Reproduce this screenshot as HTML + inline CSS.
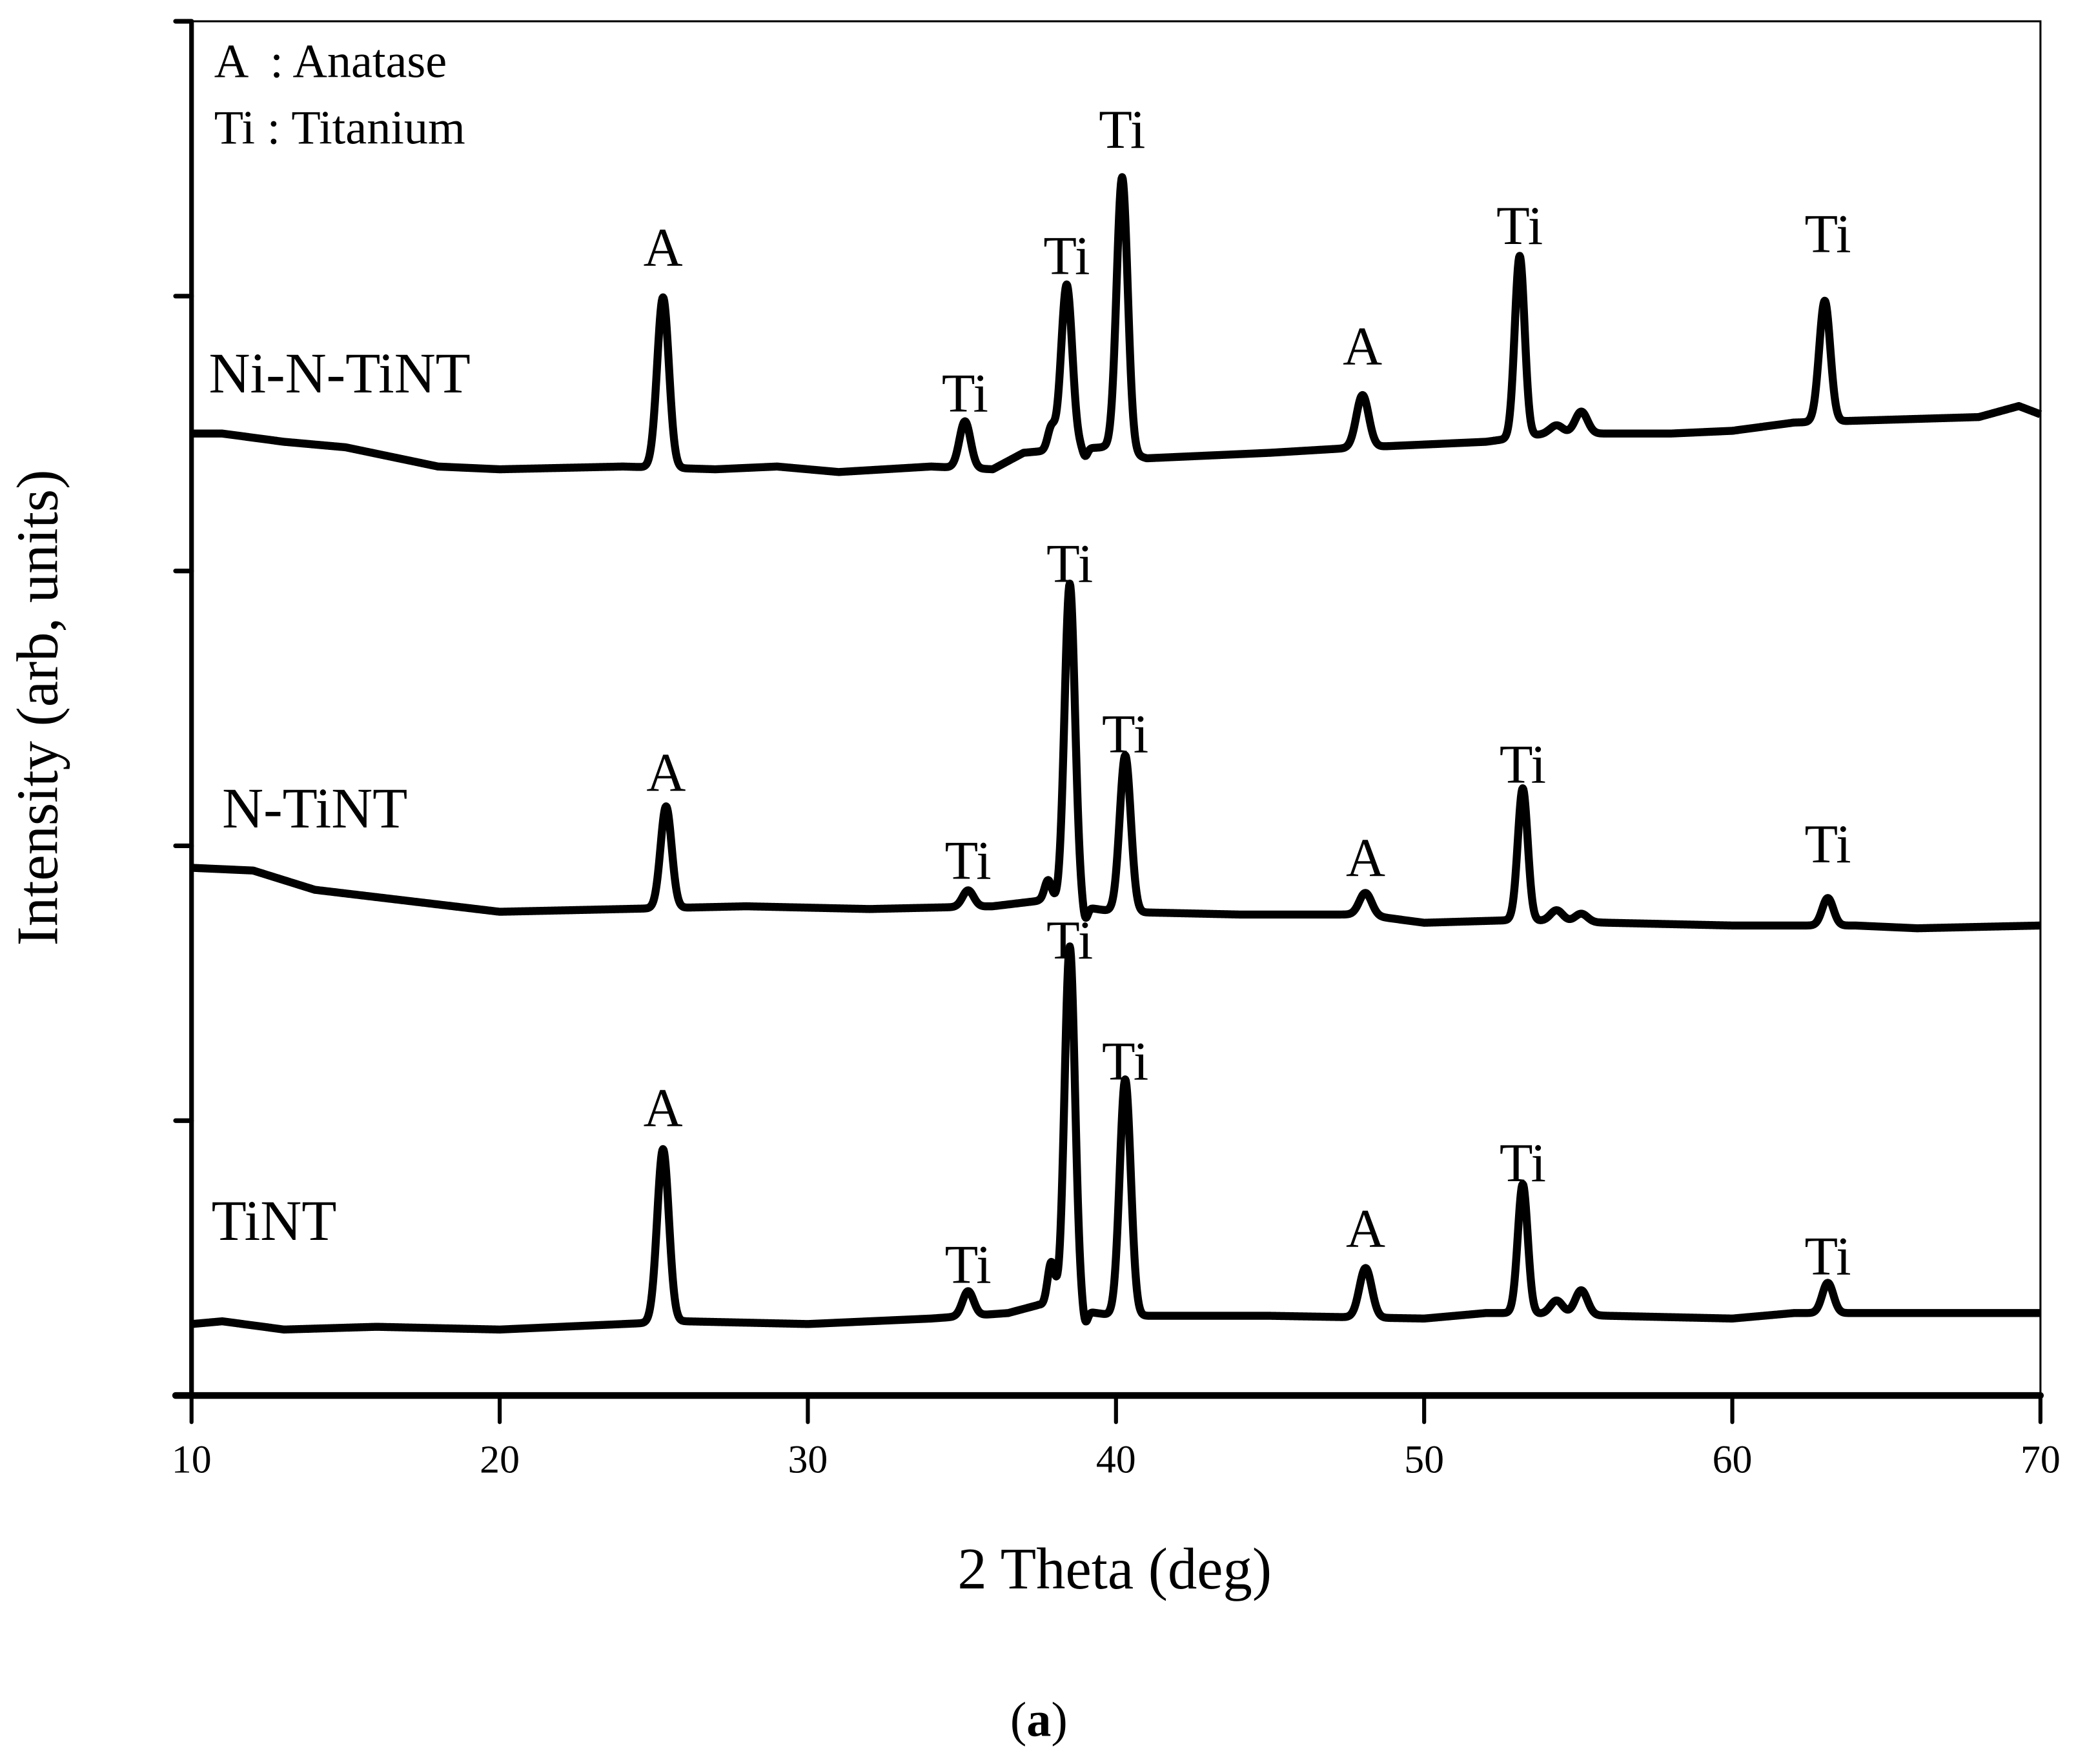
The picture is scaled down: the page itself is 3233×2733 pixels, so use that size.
<!DOCTYPE html>
<html><head><meta charset="utf-8"><style>
html,body{margin:0;padding:0;background:#fff}
svg{display:block}
text{font-family:"Liberation Serif",serif;fill:#000}
</style></head><body>
<svg id="chart" width="3233" height="2733" viewBox="1 -2 1569 1326" preserveAspectRatio="none" xmlns="http://www.w3.org/2000/svg">
<g id="axes"></g>
<g id="series"></g>
<g id="labels"></g>
<text x="162" y="56" font-size="36" xml:space="preserve">A  : Anatase</text>
<text x="162" y="106" font-size="36">Ti : Titanium</text>
<text x="158" y="293" font-size="43">Ni-N-TiNT</text>
<text x="168" y="620" font-size="43">N-TiNT</text>
<text x="160" y="930" font-size="43">TiNT</text>
<text x="839" y="1192" font-size="44" text-anchor="middle">2 Theta (deg)</text>
<text transform="translate(44,530) rotate(-90)" font-size="44" text-anchor="middle">Intensity (arb, units)</text>
<text x="782" y="1303" font-size="37" text-anchor="middle">(<tspan font-weight="bold">a</tspan>)</text>
</svg>
<script>
// x: 2θ (deg), y: intensity (arb units, 0..5)
const xTicks = [10,20,30,40,50,60,70];
const yTicks = [0,1,2,3,4,5];
// baselines: [2θ, intensity]
const baseTiNT = [[10,0.26],[11,0.27],[13,0.24],[16,0.25],[20,0.24],[24,0.26],[26,0.27],[30,0.26],[34,0.28],[36.5,0.3],[37.5,0.33],[40,0.29],[42,0.29],[45,0.29],[50,0.28],[52,0.3],[53,0.3],[56,0.29],[60,0.28],[62,0.3],[65,0.3],[70,0.3]];
const peaksTiNT = [[25.3,0.63,0.19],[35.2,0.09,0.18],[37.9,0.16,0.12],[38.5,1.32,0.17],[39.0,-0.05,0.08],[40.3,0.86,0.18],[48.1,0.18,0.2],[53.2,0.47,0.16],[54.3,0.05,0.2],[55.1,0.09,0.2],[63.1,0.11,0.18]];
const baseNTiNT = [[10,1.92],[12,1.91],[14,1.84],[17,1.8],[20,1.76],[24,1.77],[28,1.78],[32,1.77],[36,1.78],[37.5,1.8],[40,1.76],[44,1.75],[48,1.75],[50,1.72],[53,1.73],[56,1.72],[60,1.71],[64,1.71],[66,1.7],[70,1.71]];
const peaksNTiNT = [[25.4,0.37,0.18],[35.2,0.06,0.18],[37.8,0.08,0.12],[38.5,1.17,0.17],[39.0,-0.05,0.08],[40.3,0.57,0.18],[48.1,0.08,0.2],[53.2,0.48,0.16],[54.3,0.04,0.2],[55.1,0.03,0.2],[63.1,0.1,0.18]];
const baseNiNTiNT = [[10,3.5],[11,3.5],[13,3.47],[15,3.45],[18,3.38],[20,3.37],[24,3.38],[27,3.37],[29,3.38],[31,3.36],[34,3.38],[36,3.37],[37,3.43],[38,3.44],[39.6,3.45],[41,3.41],[45,3.43],[48,3.45],[50,3.46],[52,3.47],[54,3.5],[56,3.5],[58,3.5],[60,3.51],[62,3.54],[65,3.55],[68,3.56],[69.3,3.6],[70,3.57]];
const peaksNiNTiNT = [[25.3,0.62,0.19],[35.1,0.17,0.18],[37.9,0.08,0.12],[38.4,0.6,0.18],[39.0,-0.03,0.08],[40.2,1.0,0.18],[48.0,0.19,0.2],[53.1,0.66,0.16],[54.3,0.03,0.2],[55.1,0.08,0.2],[63.0,0.44,0.18]];
const seriesNames = ['tint','n-tint','ni-n-tint'];
const seriesBase = [baseTiNT, baseNTiNT, baseNiNTiNT];
const seriesPeaks = [peaksTiNT, peaksNTiNT, peaksNiNTiNT];
// label annotations [2θ, intensity at text baseline, text]
const annoTiNT = [[25.3,0.98,'A'],[35.2,0.41,'Ti'],[38.5,1.59,'Ti'],[40.3,1.15,'Ti'],[48.1,0.54,'A'],[53.2,0.78,'Ti'],[63.1,0.44,'Ti']];
const annoNTiNT = [[25.4,2.2,'A'],[35.2,1.88,'Ti'],[38.5,2.96,'Ti'],[40.3,2.34,'Ti'],[48.1,1.89,'A'],[53.2,2.23,'Ti'],[63.1,1.94,'Ti']];
const annoNiNTiNT = [[25.3,4.11,'A'],[35.1,3.58,'Ti'],[38.4,4.08,'Ti'],[40.2,4.54,'Ti'],[48.0,3.75,'A'],[53.1,4.19,'Ti'],[63.1,4.16,'Ti']];
const annos = [annoTiNT, annoNTiNT, annoNiNTiNT];

const X0=145,X1=1535,Y0=1047,Y1=14;
function xs(v){return X0+(v-10)/60*(X1-X0);}
function ys(v){return Y0-v/5*(Y0-Y1);}
const NS='http://www.w3.org/2000/svg';
const axes=document.getElementById('axes');
function mk(tag,attrs,parent){const e=document.createElementNS(NS,tag);for(const k in attrs)e.setAttribute(k,attrs[k]);parent.appendChild(e);return e;}
let e=mk('rect',{x:X0,y:Y1,width:X1-X0,height:Y0-Y1,fill:'none',stroke:'#000','stroke-width':1.5},axes);


e=mk('line',{x1:X0,y1:Y1,x2:X0,y2:Y0+2,stroke:'#000','stroke-width':3.5},axes);


e=mk('line',{x1:X0-12,y1:Y0,x2:X1,y2:Y0,stroke:'#000','stroke-width':5,'stroke-linecap':'round'},axes);


for(const t of xTicks){
  e=mk('line',{x1:xs(t),y1:Y0,x2:xs(t),y2:Y0+20,stroke:'#000','stroke-width':3,'stroke-linecap':'round'},axes);
  
  
  e=mk('text',{x:xs(t),y:Y0+58,'font-size':30,'text-anchor':'middle'},axes);
  e.textContent=t;
  
  
}
for(const t of yTicks){
  e=mk('line',{x1:X0-12,y1:ys(t),x2:X0,y2:ys(t),stroke:'#000','stroke-width':3.5,'stroke-linecap':'round'},axes);
  
  
}
function interp(b,x){for(let i=0;i<b.length-1;i++){if(x>=b[i][0]&&x<=b[i+1][0]){const f=(x-b[i][0])/(b[i+1][0]-b[i][0]);return b[i][1]+f*(b[i+1][1]-b[i][1]);}}return b[b.length-1][1];}
const sg=document.getElementById('series');
for(let s=0;s<3;s++){
  let d='';
  for(let x=10;x<=70.0001;x+=0.02){
    let v=interp(seriesBase[s],x);
    for(const p of seriesPeaks[s]) v+=p[1]*Math.exp(-((x-p[0])**2)/(2*p[2]*p[2]));
    d+=(d?'L':'M')+xs(x).toFixed(2)+' '+ys(v).toFixed(2);
  }
  e=mk('path',{d:d,fill:'none',stroke:'#000','stroke-width':6,'stroke-linejoin':'round'},sg);
  
  
}
const lg=document.getElementById('labels');
for(let s=0;s<3;s++){
  for(const a of annos[s]){
    e=mk('text',{x:xs(a[0]),y:ys(a[1]),'font-size':41,'text-anchor':'middle'},lg);
    e.textContent=a[2];
    
    
  }
}
</script>
</body></html>
